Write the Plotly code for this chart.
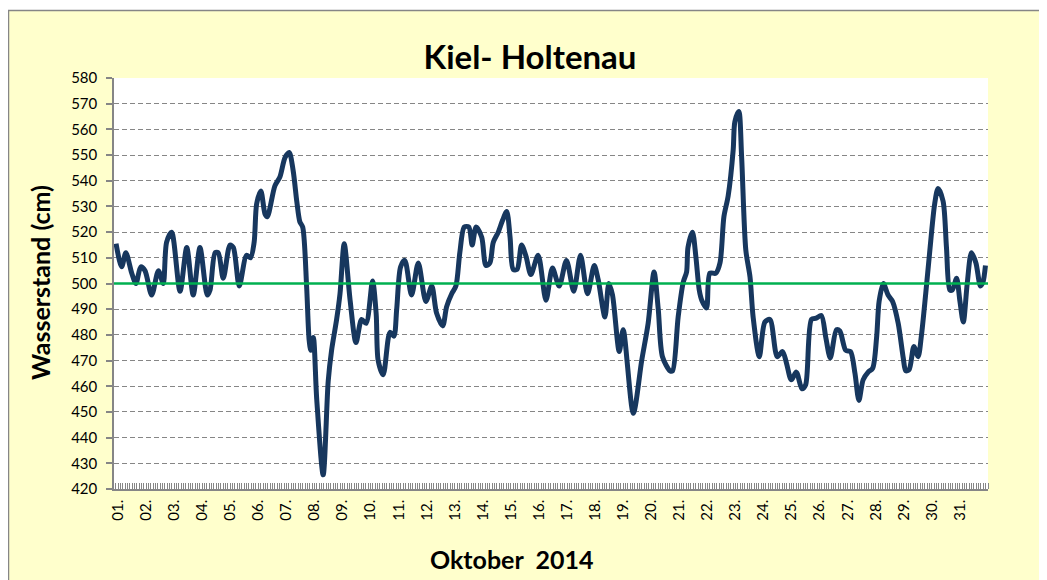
import plotly.graph_objects as go

# ---- data ----
days = [0.93, 1.13, 1.28, 1.49, 1.64, 1.81, 1.96, 2.2, 2.44, 2.61, 2.73, 2.91, 3.21, 3.45, 3.68, 3.92,
        4.18, 4.28, 4.46, 4.57, 4.75, 4.99, 5.11, 5.32, 5.58, 5.72, 5.85, 5.94, 6.09, 6.24, 6.32, 6.59,
        6.77, 6.95, 7.1, 7.24, 7.37, 7.48, 7.58, 7.72, 7.81, 7.87, 7.96, 8.08, 8.31, 8.49, 8.61, 8.79,
        8.91, 9.06, 9.27, 9.48, 9.68, 9.84, 10.07, 10.2, 10.27, 10.45, 10.69, 10.83, 10.93, 11.07, 11.22,
        11.46, 11.7, 11.97, 12.18, 12.35, 12.57, 12.71, 12.89, 13.04, 13.18, 13.34, 13.5, 13.62, 13.76,
        13.96, 14.11, 14.25, 14.37, 14.55, 14.7, 14.85, 14.97, 15.08, 15.22, 15.38, 15.54, 15.71, 15.97,
        16.25, 16.48, 16.72, 16.98, 17.24, 17.48, 17.73, 17.97, 18.11, 18.35, 18.49, 18.62, 18.86, 19.0,
        19.36, 19.66, 19.89, 20.1, 20.25, 20.4, 20.67, 20.76, 20.96, 21.14, 21.26, 21.31, 21.47, 21.59,
        21.71, 21.8, 21.97, 22.09, 22.3, 22.45, 22.59, 22.74, 22.92, 22.98, 23.12, 23.22, 23.37, 23.52,
        23.63, 23.85, 24.05, 24.23, 24.49, 24.68, 24.82, 24.99, 25.17, 25.37, 25.5, 25.71, 25.88, 26.06,
        26.22, 26.38, 26.6, 26.72, 26.93, 27.1, 27.26, 27.4, 27.55, 27.73, 27.89, 28.03, 28.12, 28.27,
        28.44, 28.6, 28.8, 28.98, 29.07, 29.19, 29.36, 29.51, 29.63, 29.78, 29.92, 30.1, 30.22, 30.4,
        30.52, 30.64, 30.73, 30.88, 31.0, 31.12, 31.26, 31.41, 31.57, 31.73, 31.82, 31.91]
water_level = [515.5, 506.5, 512, 504, 500, 506.5, 505, 495.5, 505, 500, 516, 520, 497, 514, 495.5, 514,
               495.5, 497.5, 512, 512, 502, 515, 514, 499, 511, 510, 516, 531, 536, 527, 526, 538,
               541.5, 549, 551, 544, 532, 524, 522, 499, 478, 474, 479, 455, 425.5, 462, 474, 486,
               496, 515.5, 493.5, 477, 486, 484.5, 501, 488, 470, 464.5, 481, 479.5, 490, 506.5, 509,
               495.5, 508, 493, 499, 488.5, 483.5, 491, 496, 499, 512, 522, 522, 515, 522,
               518, 507, 508, 516, 520, 524.5, 528, 518, 505.5, 505.5, 515, 510.5, 503.5, 511,
               493.5, 506, 499, 509, 497, 511, 496, 507, 501.5, 487, 500, 495.5, 473.5, 482,
               449.5, 470, 484.5, 504.5, 490, 471.5, 466, 466, 487, 500.5, 504.5, 514, 520, 510.5,
               497.5, 493.5, 490.5, 504, 504, 508, 526, 534, 552, 563, 567, 549.5, 513, 502.5,
               487, 471.5, 485, 486, 471.5, 473.5, 469, 462.5, 465.5, 459, 460.5, 486, 486.5, 487.5,
               479, 471, 482, 481.5, 474, 473.5, 465, 454.5, 462.5, 465.5, 467, 479, 493, 500,
               495.5, 493, 484.5, 471, 466, 466.5, 475.5, 471.5, 480, 496, 512, 531, 537, 532,
               514, 497.5, 497.5, 502, 493, 485, 500, 512, 508, 499, 500.5, 507]
mean_level = 500
tick_days = list(range(1, 32))
tick_labels = [f"{d:02d}." for d in tick_days]
y_ticks = list(range(420, 581, 10))

# ---- layout constants (page pixels; the page body adds an 8px offset) ----
OFF = 8
W, H = 1047 - OFF, 580 - OFF
L, R, T, B = 114 - OFF, 988 - OFF, 78 - OFF, 489 - OFF
X_RANGE = [0.857, 32.0]
Y_RANGE = [420, 580]
GRAY = "#868686"
FONT = "Lato"

pw, ph = R - L, B - T
def px2paper_x(page_px):
    return (page_px - OFF - L) / pw
def px2paper_y(page_py):
    return (B - (page_py - OFF)) / ph

fig = go.Figure()
fig.add_trace(go.Scatter(
    x=days, y=water_level, mode="lines", name="Wasserstand",
    line=dict(color="#17375E", width=5, shape="spline", smoothing=0.8),
    hoverinfo="x+y"))
fig.add_trace(go.Scatter(
    x=X_RANGE, y=[mean_level, mean_level], mode="lines", name="Mittelwasser",
    line=dict(color="#00B050", width=2.5)))

fig.update_layout(
    width=W, height=H,
    margin=dict(l=L, r=W - R, t=T, b=H - B, pad=0),
    paper_bgcolor="white", plot_bgcolor="rgba(0,0,0,0)",
    showlegend=False,
    font=dict(family=FONT, size=15, color="black"),
    title=dict(text="<b>Kiel- Holtenau</b>", x=px2paper_x(530), xref="paper",
               xanchor="center", y=1 - (57 - OFF) / H, yref="container", yanchor="middle",
               font=dict(family=FONT, size=33, color="black")),
    shapes=[
        dict(type="rect", xref="paper", yref="paper", layer="below",
             x0=px2paper_x(OFF + 0.5), x1=px2paper_x(1044), y0=px2paper_y(590), y1=px2paper_y(10.5),
             fillcolor="#FFFFCC", line=dict(color=GRAY, width=1.5)),
        dict(type="rect", xref="paper", yref="paper", layer="below",
             x0=0, x1=1, y0=0, y1=1, fillcolor="white", line=dict(width=0)),
    ],
    annotations=[
        dict(text="<b>Oktober\u00a0 2014</b>", xref="paper", yref="paper",
             x=px2paper_x(511), y=px2paper_y(559), xanchor="center", yanchor="middle",
             showarrow=False, font=dict(family=FONT, size=25, color="black")),
        dict(text="<b>Wasserstand (cm)</b>", xref="paper", yref="paper", textangle=-90,
             x=px2paper_x(40), y=px2paper_y(283), xanchor="center", yanchor="middle",
             showarrow=False, font=dict(family=FONT, size=25, color="black")),
    ],
)

fig.update_xaxes(
    range=X_RANGE, tickmode="array", tickvals=tick_days, ticktext=tick_labels,
    tickangle=-90, ticks="", showgrid=False, zeroline=False,
    showline=True, linecolor=GRAY, linewidth=1.5,
    ticklabelstandoff=3,
    tickfont=dict(family=FONT, size=15, color="black"),
    minor=dict(tickmode="linear", tick0=1, dtick=1 / 12, ticks="inside", ticklen=6,
               tickcolor=GRAY, tickwidth=1, showgrid=False),
)
fig.update_yaxes(
    range=Y_RANGE, tickmode="array", tickvals=y_ticks,
    ticks="outside", ticklen=6, tickcolor=GRAY, tickwidth=1.5,
    ticklabelstandoff=6,
    showgrid=True, gridcolor=GRAY, gridwidth=1.3, griddash="5px,3px",
    zeroline=False, showline=True, linecolor=GRAY, linewidth=1.5,
    tickfont=dict(family=FONT, size=15, color="black"),
)

fig.write_html("out.html")
